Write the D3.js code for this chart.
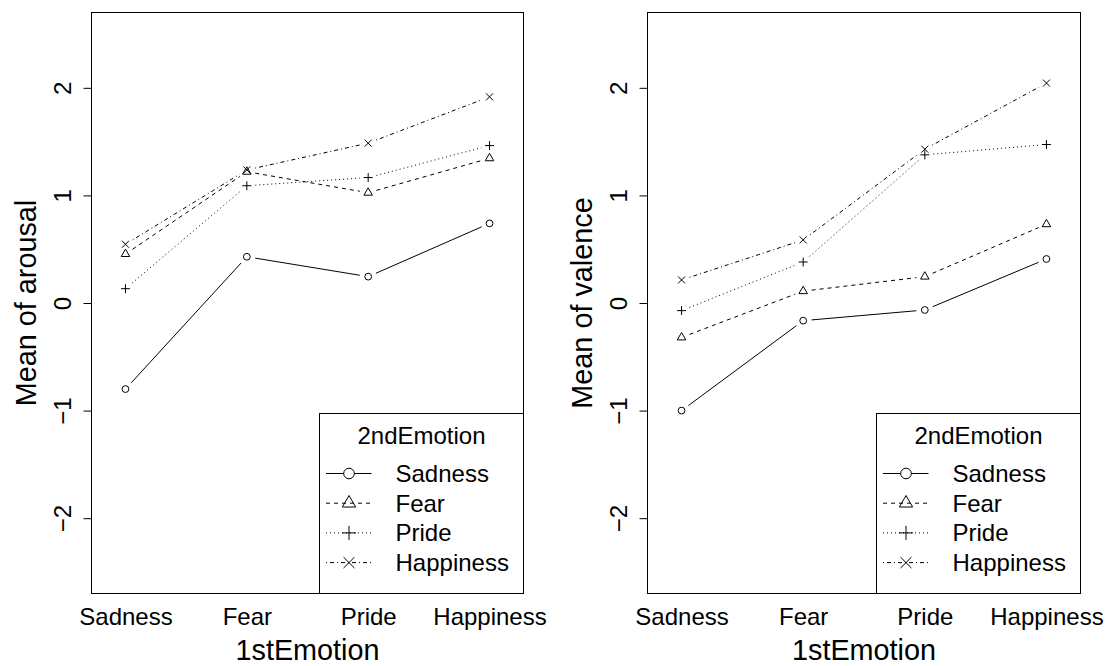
<!DOCTYPE html>
<html>
<head>
    <script src="https://d3js.org/d3.v7.min.js"></script>
    <style>
        body {
            margin: 0;
            background: #fff;
            font-family: 'Liberation Sans', Arial, Helvetica, sans-serif;
        }
        svg text { fill: #000; }
    </style>
</head>
<body>
<div id="chart"></div>
<script>
// Data
const firstEmotion = ["Sadness", "Fear", "Pride", "Happiness"];
const secondEmotion = ["Sadness", "Fear", "Pride", "Happiness"];
const yTicks = [-2, -1, 0, 1, 2];

const arousalSadness   = [-0.80, 0.43, 0.245, 0.74];
const arousalFear      = [0.455, 1.22, 1.025, 1.345];
const arousalPride     = [0.133, 1.09, 1.166, 1.463];
const arousalHappiness = [0.546, 1.237, 1.486, 1.916];

const valenceSadness   = [-1.00, -0.164, -0.065, 0.409];
const valenceFear      = [-0.32, 0.11, 0.245, 0.732];
const valencePride     = [-0.071, 0.381, 1.377, 1.473];
const valenceHappiness = [0.214, 0.586, 1.43, 2.044];

// Line types and point symbols, R style (lty 1..4, pch 1..4)
const dashes = [null, "4,4", "1,3", "1,3,4,3"];
const symbols = ["circle", "triangle", "plus", "cross"];

const width = 1108, height = 666;
const plotTop = 12.5, plotBottom = 593.5;
const font = "'Liberation Sans', Arial, Helvetica, sans-serif";

const svg = d3.select("#chart")
    .append("svg")
    .attr("width", width)
    .attr("height", height);

// small helper for symbol paths, s = base size
const symbolPath = (type, s) => {
    if (type === "circle") {
        return `M${s},0A${s},${s} 0 1,1 ${-s},0A${s},${s} 0 1,1 ${s},0Z`;
    }
    if (type === "triangle") {
        const r = s * 1.45, h = r / 2, w = r * Math.sqrt(3) / 2;
        return `M0,${-r}L${w},${h}L${-w},${h}Z`;
    }
    if (type === "plus") {
        const a = s * 1.32;
        return `M${-a},0H${a}M0,${-a}V${a}`;
    }
    const a = s * 1.03;
    return `M${-a},${-a}L${a},${a}M${-a},${a}L${a},${-a}`;
};

const drawPanel = (panel) => {
    const x = d3.scalePoint()
        .domain(firstEmotion)
        .range([panel.left, panel.right])
        .padding(0.28);

    const y = d3.scaleLinear()
        .domain([-2.7, 2.7])
        .range([plotBottom, plotTop]);

    const g = svg.append("g");

    // Y axis (labels parallel to the axis)
    const yAxis = d3.axisLeft(y)
        .tickValues(yTicks)
        .tickSize(8)
        .tickFormat(d => d < 0 ? "\u2212" + Math.abs(d) : String(d));

    const ya = g.append("g")
        .attr("transform", `translate(${panel.left},0)`)
        .call(yAxis)
        .attr("font-size", 24)
        .attr("font-family", font);
    ya.select(".domain").remove();
    ya.selectAll(".tick line").attr("stroke", "#000");
    ya.selectAll(".tick text")
        .attr("transform", "rotate(-90)")
        .attr("x", 0)
        .attr("y", -20.5)
        .attr("dy", 0)
        .attr("text-anchor", "middle")
        .attr("fill", "#000");

    // X axis, no tick marks
    const xa = g.append("g")
        .attr("transform", `translate(0,${plotBottom})`)
        .call(d3.axisBottom(x).tickSize(0))
        .attr("font-size", 24)
        .attr("font-family", font);
    xa.select(".domain").remove();
    xa.selectAll(".tick text")
        .attr("y", 31.5)
        .attr("dy", 0)
        .attr("fill", "#000");

    // Axis titles
    g.append("text")
        .attr("transform", `translate(${panel.left - 56},${(plotTop + plotBottom) / 2}) rotate(-90)`)
        .attr("text-anchor", "middle")
        .attr("font-size", 28.8)
        .attr("font-family", font)
        .text(panel.ylab);

    g.append("text")
        .attr("x", (panel.left + panel.right) / 2)
        .attr("y", 659.5)
        .attr("text-anchor", "middle")
        .attr("font-size", 28.8)
        .attr("font-family", font)
        .text("1stEmotion");

    // Series: lines with gaps round the points (type = "b")
    const gap = 8.5;
    panel.series.forEach((values, i) => {
        const pts = values.map((v, j) => [x(firstEmotion[j]), y(v)]);
        const sg = g.append("g");
        d3.pairs(pts).forEach(([a, b]) => {
            const dx = b[0] - a[0], dy = b[1] - a[1];
            const len = Math.hypot(dx, dy);
            if (len <= 2 * gap) return;
            const ux = dx / len, uy = dy / len;
            sg.append("line")
                .attr("x1", a[0] + ux * gap)
                .attr("y1", a[1] + uy * gap)
                .attr("x2", b[0] - ux * gap)
                .attr("y2", b[1] - uy * gap)
                .attr("stroke", "#000")
                .attr("stroke-width", 1)
                .attr("stroke-dasharray", dashes[i]);
        });
        sg.selectAll("path")
            .data(pts)
            .join("path")
            .attr("transform", d => `translate(${d[0]},${d[1]})`)
            .attr("d", symbolPath(symbols[i], 3.4))
            .attr("fill", "none")
            .attr("stroke", "#000")
            .attr("stroke-width", 1);
    });

    // Plot frame
    g.append("rect")
        .attr("x", panel.left)
        .attr("y", plotTop)
        .attr("width", panel.right - panel.left)
        .attr("height", plotBottom - plotTop)
        .attr("fill", "none")
        .attr("stroke", "#000");

    // Legend, bottom right
    const lx = panel.right - 204, ly = 413.5;
    const lg = g.append("g");
    lg.append("rect")
        .attr("x", lx)
        .attr("y", ly)
        .attr("width", panel.right - lx)
        .attr("height", plotBottom - ly)
        .attr("fill", "#fff")
        .attr("stroke", "#000");
    lg.append("text")
        .attr("x", (lx + panel.right) / 2)
        .attr("y", 443.5)
        .attr("text-anchor", "middle")
        .attr("font-size", 24)
        .attr("font-family", font)
        .text("2ndEmotion");

    const itemY = d3.scaleLinear().domain([0, 3]).range([473.5, 562.6]);
    secondEmotion.forEach((name, i) => {
        const cy = itemY(i);
        lg.append("line")
            .attr("x1", lx + 6.5).attr("x2", lx + 52)
            .attr("y1", cy).attr("y2", cy)
            .attr("stroke", "#000")
            .attr("stroke-dasharray", dashes[i]);
        lg.append("path")
            .attr("transform", `translate(${lx + 29.5},${cy})`)
            .attr("d", symbolPath(symbols[i], 5.3))
            .attr("fill", i === 0 ? "#fff" : "none")
            .attr("stroke", "#000");
        lg.append("text")
            .attr("x", lx + 76)
            .attr("y", cy + 8.5)
            .attr("font-size", 24)
            .attr("font-family", font)
            .text(name);
    });
};

drawPanel({
    left: 91.5, right: 523.5,
    ylab: "Mean of arousal",
    series: [arousalSadness, arousalFear, arousalPride, arousalHappiness]
});

drawPanel({
    left: 647.5, right: 1080.5,
    ylab: "Mean of valence",
    series: [valenceSadness, valenceFear, valencePride, valenceHappiness]
});
</script>
</body>
</html>
